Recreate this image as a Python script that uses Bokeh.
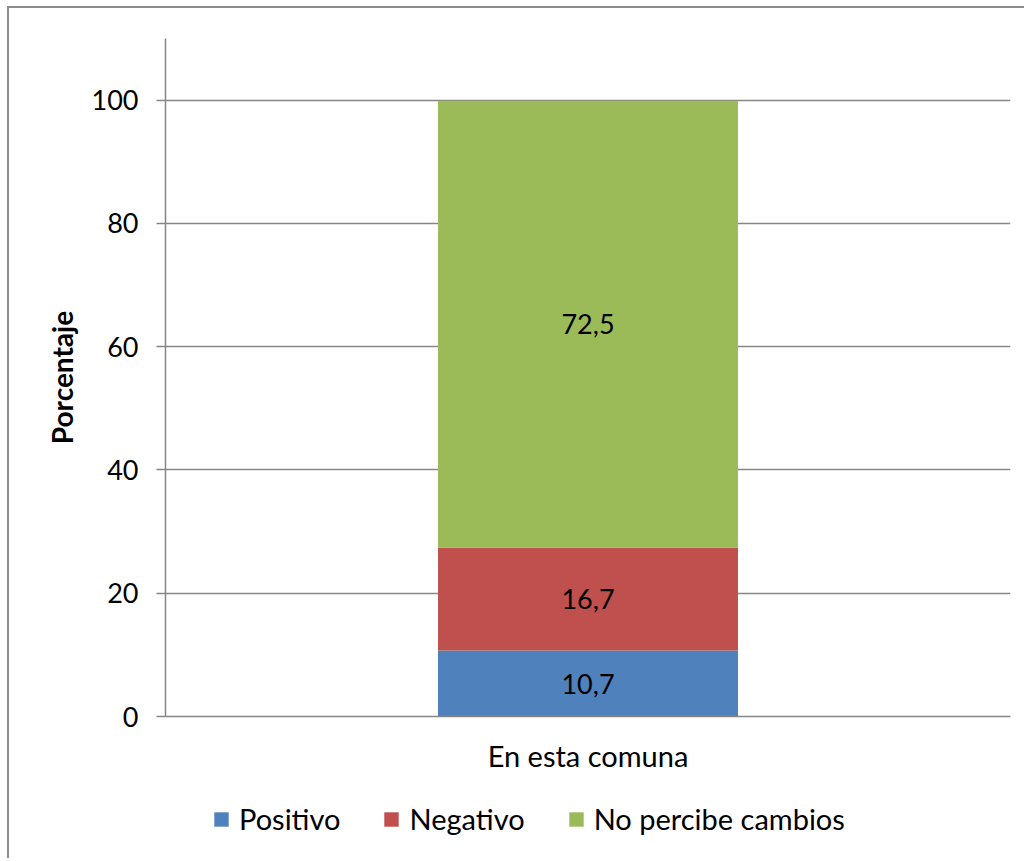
from bokeh.plotting import figure
from bokeh.layouts import column
from bokeh.models import Range1d, FactorRange, Legend, LegendItem, ColumnDataSource, FixedTicker
from bokeh.embed import file_html
from bokeh.resources import INLINE
from bokeh.core.properties import value

categories = ["En esta comuna"]
series = ["Positivo", "Negativo", "No percibe cambios"]
positivo = [10.7]
negativo = [16.7]
no_percibe = [72.5]
colors = ["#4F81BD", "#C0504D", "#9BBB59"]
y_ticks = [0, 20, 40, 60, 80, 100]

FONT = "Lato"
GRAY = "#868686"

src = ColumnDataSource(dict(cat=categories, Positivo=positivo, Negativo=negativo,
                            **{"No percibe cambios": no_percibe}))

p = figure(width=1015, height=790, x_range=FactorRange(*categories), y_range=Range1d(0, 110),
           output_backend="svg", toolbar_location=None,
           min_border_left=156, min_border_right=14, min_border_top=30, min_border_bottom=82)

p.vbar_stack(series, x="cat", width=0.355, color=colors, source=src, line_color=None)

# labels at segment centres
mids, labels, xs = [], [], []
for c_i, c in enumerate(categories):
    acc = 0.0
    for vals in (positivo, negativo, no_percibe):
        v = vals[c_i]
        mids.append(acc + v / 2)
        acc += v
        labels.append(f"{v:.1f}".replace(".", ","))
        xs.append(c)
lsrc = ColumnDataSource(dict(x=xs, y=mids, t=labels))
p.text(x="x", y="y", text="t", source=lsrc, text_align="center", text_baseline="middle",
       text_font=value(FONT), text_font_size="27px", text_color="black")

p.outline_line_color = None
p.xgrid.grid_line_color = None
p.ygrid.grid_line_color = GRAY
p.ygrid.grid_line_width = 1.5
p.yaxis.ticker = FixedTicker(ticks=y_ticks)
p.yaxis.axis_line_color = GRAY
p.yaxis.axis_line_width = 1.5
p.yaxis.major_tick_line_color = GRAY
p.yaxis.major_tick_line_width = 1.5
p.yaxis.major_tick_out = 9
p.yaxis.major_tick_in = 0
p.yaxis.minor_tick_line_color = None
p.yaxis.major_label_text_font = FONT
p.yaxis.major_label_text_font_size = "27px"
p.yaxis.major_label_text_color = "black"
p.yaxis.major_label_standoff = 18
p.yaxis.axis_label = "Porcentaje"
p.yaxis.axis_label_text_font = FONT
p.yaxis.axis_label_text_font_size = "28px"
p.yaxis.axis_label_text_font_style = "bold"
p.yaxis.axis_label_text_color = "black"
p.yaxis.axis_label_standoff = 10

p.xaxis.axis_line_color = GRAY
p.xaxis.axis_line_width = 1.5
p.xaxis.major_tick_line_color = None
p.xaxis.minor_tick_line_color = None
p.xaxis.major_label_text_font = FONT
p.xaxis.major_label_text_font_size = "29px"
p.xaxis.major_label_text_color = "black"
p.xaxis.major_label_standoff = 15

# legend strip below the chart; its proxy bars fall outside this strip's range
lg = figure(width=1015, height=60, x_range=FactorRange(*categories), y_range=Range1d(1000, 1001),
            output_backend="svg", toolbar_location=None,
            x_axis_location=None, y_axis_location=None,
            min_border_left=0, min_border_right=0, min_border_top=0, min_border_bottom=0)
lg.grid.visible = False
lg.outline_line_color = None
proxies = lg.vbar_stack(series, x="cat", width=0.355, color=colors, source=src, line_color=None)
legend = Legend(items=[LegendItem(label=s, renderers=[r]) for s, r in zip(series, proxies)],
                orientation="horizontal", location=(47, 22), margin=0, padding=0,
                label_text_font=FONT, label_text_font_size="29px", label_text_color="black",
                glyph_width=18, glyph_height=18, spacing=42, label_standoff=9,
                border_line_color=None, background_fill_alpha=0)
lg.add_layout(legend, "center")

layout = column(p, lg, spacing=0)
layout.styles = {"margin-left": "7px", "margin-top": "6px",
                 "border-left": "2px solid #8c8c8c", "border-top": "2px solid #8c8c8c"}

open("out.html", "w").write(file_html(layout, INLINE))
